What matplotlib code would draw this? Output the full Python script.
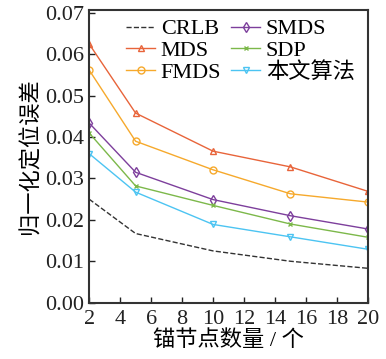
import matplotlib
matplotlib.use("Agg")
import matplotlib.pyplot as plt

plt.rcParams["font.family"] = ["Liberation Serif", "Noto Sans CJK SC"]
plt.rcParams["mathtext.fontset"] = "stix"

# anchor count vs normalized localization error
anchors = [2, 5, 10, 15, 20]
crlb = [0.0250, 0.0167, 0.0125, 0.0100, 0.0083]
mds = [0.0625, 0.0458, 0.0366, 0.0328, 0.0269]
fmds = [0.0562, 0.0390, 0.0321, 0.0263, 0.0243]
smds = [0.0434, 0.0315, 0.0249, 0.0210, 0.0178]
sdp = [0.0410, 0.0282, 0.0235, 0.0190, 0.0158]
ours = [0.0360, 0.0267, 0.0189, 0.0159, 0.0129]

x_ticks = [2, 4, 6, 8, 10, 12, 14, 16, 18, 20]
y_ticks = [0.00, 0.01, 0.02, 0.03, 0.04, 0.05, 0.06, 0.07]

fig = plt.figure(figsize=(3.86, 3.59), dpi=100)
ax = fig.add_axes([0.231, 0.157, 0.722, 0.815])

ms = 5
ax.plot(anchors, crlb, "--", color="#333333", lw=1.0, label="CRLB")
ax.plot(anchors, mds, "-^", color="#e8643a", lw=1.0, ms=ms, mfc="none", label="MDS")
ax.plot(anchors, fmds, "-o", color="#f6a92c", lw=1.0, ms=ms, mfc="none", label="FMDS")
ax.plot(anchors, smds, "-d", color="#7d3f9c", lw=1.0, ms=ms, mfc="none", label="SMDS")
ax.plot(anchors, sdp, "-x", color="#7cb84a", lw=1.0, ms=3, label="SDP")
ax.plot(anchors, ours, "-v", color="#4cc4f2", lw=1.0, ms=ms, mfc="none", label="本文算法")

ax.set_xlim(2, 20)
ax.set_ylim(0, 0.0707)
ax.set_xticks(x_ticks)
ax.set_yticks(y_ticks)
ax.set_yticklabels([f"{v:.2f}" for v in y_ticks])
ax.tick_params(direction="in", labelsize=16, length=4, width=1, colors="#222222")
ax.tick_params(axis="x", pad=5)
for s in ax.spines.values():
    s.set_linewidth(1.5)
    s.set_color("#333333")

ax.set_xlabel("锚节点数量 / 个", fontsize=16, labelpad=1)
ax.set_ylabel("归一化定位误差", fontsize=16, labelpad=3)

ax.legend(ncol=2, loc="upper right", frameon=False, fontsize=16,
          handlelength=1.3, handletextpad=0.25, columnspacing=0.45,
          labelspacing=0.05, borderaxespad=0.0, bbox_to_anchor=(0.985, 1.0))

fig.savefig("out.png", dpi=100)
